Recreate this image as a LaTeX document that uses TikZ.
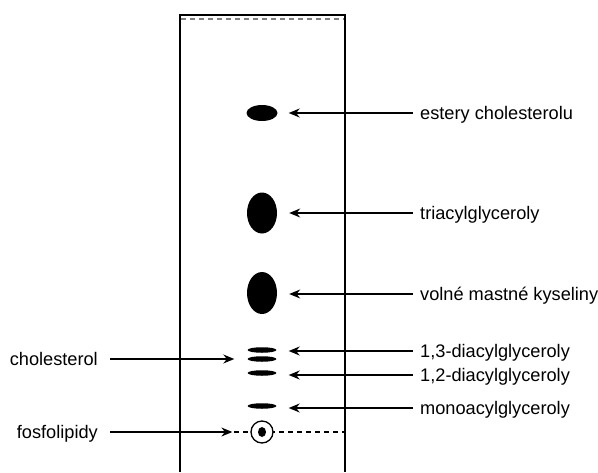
\documentclass[tikz,border=0pt]{standalone}
\usepackage{fontspec}
\setmainfont{Liberation Sans}
\usetikzlibrary{arrows.meta,shapes.geometric}
\begin{document}
\begin{tikzpicture}[x=1pt,y=-1pt,
  spot/.style={ellipse, fill=black, draw=none, inner sep=0pt},
  lbl/.style={inner sep=0pt, text height=12pt, text depth=0pt, font=\fontsize{18.2}{20}\selectfont},
  rlbl/.style={lbl, anchor=west},
  llbl/.style={lbl, anchor=east},
  arr/.style={-{Stealth[length=11pt,width=9pt]}, line width=1.3pt},
  plate/.style={line width=1.5pt},
  front/.style={line width=1.2pt, dash pattern=on 5pt off 4pt}]
\useasboundingbox (0,0) rectangle (598,472);
% plate
\draw[plate] (180,472) -- (180,15) -- (345,15) -- (345,472);
\draw[front, gray] (181,19) -- (344,19);
\draw[front] (180,432) -- (345,432);
% spots
\node[spot, minimum width=31pt, minimum height=16pt] (est) at (262,113) {};
\node[spot, minimum width=30pt, minimum height=41pt] (tri) at (262,213) {};
\node[spot, minimum width=30pt, minimum height=42pt] (vol) at (262,293) {};
\node[spot, minimum width=29pt, minimum height=5.5pt] (d13a) at (262,350) {};
\node[spot, minimum width=29pt, minimum height=5.5pt] (d13b) at (262,359) {};
\node[spot, minimum width=29pt, minimum height=5.5pt] (d12) at (262,373) {};
\node[spot, minimum width=29pt, minimum height=5.5pt] (mono) at (262,406) {};
\node[circle, draw, fill=white, line width=1.3pt, minimum size=22pt, inner sep=0pt] (fos) at (262,432) {};
\fill (fos.center) ellipse (4pt and 5pt);
% labels
\node[rlbl] (lest) at (420,113) {estery cholesterolu};
\node[rlbl] (ltri) at (420,213) {triacylglyceroly};
\node[rlbl] (lvol) at (420,294) {volné mastné kyseliny};
\node[rlbl] (l13) at (420,351) {1,3-diacylglyceroly};
\node[rlbl] (l12) at (420,375) {1,2-diacylglyceroly};
\node[rlbl] (lmono) at (420,408) {monoacylglyceroly};
\node[llbl] (lchol) at (98,359) {cholesterol};
\node[llbl] (lfos) at (98,432) {fosfolipidy};
% arrows
\draw[arr] ([xshift=-7pt]lest.west) -- ([xshift=11pt]est.east |- lest.west);
\draw[arr] ([xshift=-7pt]ltri.west) -- ([xshift=12pt]tri.east |- ltri.west);
\draw[arr] ([xshift=-7pt]lvol.west) -- ([xshift=12pt]vol.east |- lvol.west);
\draw[arr] ([xshift=-7pt]l13.west) -- ([xshift=12pt]d13a.east |- l13.west);
\draw[arr] ([xshift=-7pt]l12.west) -- ([xshift=12pt]d12.east |- l12.west);
\draw[arr] ([xshift=-7pt]lmono.west) -- ([xshift=12pt]mono.east |- lmono.west);
\draw[arr] ([xshift=12pt]lchol.east) -- ([xshift=-13pt]d13b.west |- lchol.east);
\draw[arr] ([xshift=12pt]lfos.east) -- ([xshift=-18pt]fos.west);
\end{tikzpicture}
\end{document}
